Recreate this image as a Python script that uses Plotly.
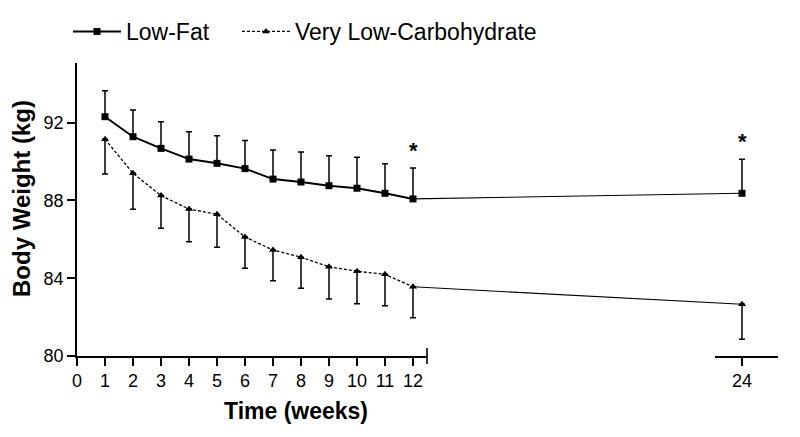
import plotly.graph_objects as go

# ---- data ----
weeks = [1, 2, 3, 4, 5, 6, 7, 8, 9, 10, 11, 12, 24]
low_fat = [92.31, 91.28, 90.68, 90.13, 89.91, 89.64, 89.10, 88.95, 88.76, 88.63, 88.37, 88.08, 88.37]
low_fat_sd = [1.34, 1.37, 1.37, 1.41, 1.42, 1.44, 1.50, 1.54, 1.54, 1.59, 1.52, 1.59, 1.75]
low_carb = [91.15, 89.40, 88.25, 87.56, 87.29, 86.12, 85.45, 85.08, 84.59, 84.36, 84.20, 83.56, 82.66]
low_carb_sd = [1.79, 1.85, 1.68, 1.68, 1.70, 1.61, 1.58, 1.60, 1.66, 1.67, 1.61, 1.59, 1.80]
sig_weeks = [12, 24]
x_ticks_first = [0, 1, 2, 3, 4, 5, 6, 7, 8, 9, 10, 11, 12]
x_ticks_second = [24]
y_ticks = [80, 84, 88, 92]
series_names = ["Low-Fat", "Very Low-Carbohydrate"]

# ---- layout geometry (target page pixels; page has an 8px body offset) ----
W, H = 800, 437
OFF = 8
PAGE_LEFT, PAGE_RIGHT, PAGE_TOP, PAGE_BOTTOM = 77, 778, 63, 356
L = PAGE_LEFT - OFF
T = PAGE_TOP - OFF
R = W - (PAGE_RIGHT - OFF)
B = H - (PAGE_BOTTOM - OFF)
PW = W - L - R
PH = H - T - B
PX_PER_WEEK = 28.0
PX_PER_KG = 19.44
seg1_px = 350.0                       # 0 .. 12.5
seg2_start_px = 715 - PAGE_LEFT
seg2_end_px = PW
week24_px = 742 - PAGE_LEFT


def px_x(page_x):
    return (page_x - PAGE_LEFT) / PW


def px_y(page_y):
    return (PAGE_BOTTOM - page_y) / PH


d1 = [0, seg1_px / PW]
d2 = [seg2_start_px / PW, 1.0]
r1 = [0, seg1_px / PX_PER_WEEK]
r2_0 = 24 - (week24_px - seg2_start_px) / PX_PER_WEEK
r2 = [r2_0, r2_0 + (seg2_end_px - seg2_start_px) / PX_PER_WEEK]
p12 = 12 * PX_PER_WEEK
k3 = (week24_px - p12) / 12.0
r3_0 = 12 - p12 / k3
r3 = [r3_0, r3_0 + PW / k3]

FONT = "Liberation Sans, Arial, sans-serif"
n1 = 12

fig = go.Figure()

fig.add_trace(go.Scatter(
    x=weeks[:n1], y=low_fat[:n1], name=series_names[0], mode="lines+markers",
    line=dict(color="black", width=2), marker=dict(symbol="square", size=7, color="black"),
    error_y=dict(type="data", symmetric=False, array=low_fat_sd[:n1], arrayminus=[0] * n1,
                 color="black", thickness=1.5, width=3),
    xaxis="x", yaxis="y", legend="legend"))
fig.add_trace(go.Scatter(
    x=weeks[:n1], y=low_carb[:n1], name=series_names[1], mode="lines+markers",
    line=dict(color="black", width=1.3, dash="3px,2px"),
    marker=dict(symbol="triangle-up", size=7, color="black"),
    error_y=dict(type="data", symmetric=False, array=[0] * n1, arrayminus=low_carb_sd[:n1],
                 color="black", thickness=1.5, width=3),
    xaxis="x", yaxis="y", legend="legend2"))

for vals in (low_fat, low_carb):
    fig.add_trace(go.Scatter(
        x=weeks[n1 - 1:], y=vals[n1 - 1:], mode="lines", showlegend=False, hoverinfo="skip",
        line=dict(color="black", width=1.1), xaxis="x3", yaxis="y"))

fig.add_trace(go.Scatter(
    x=weeks[n1:], y=low_fat[n1:], mode="markers", showlegend=False,
    marker=dict(symbol="square", size=7, color="black"),
    error_y=dict(type="data", symmetric=False, array=low_fat_sd[n1:], arrayminus=[0],
                 color="black", thickness=1.5, width=3),
    xaxis="x2", yaxis="y"))
fig.add_trace(go.Scatter(
    x=weeks[n1:], y=low_carb[n1:], mode="markers", showlegend=False,
    marker=dict(symbol="triangle-up", size=7, color="black"),
    error_y=dict(type="data", symmetric=False, array=[0], arrayminus=low_carb_sd[n1:],
                 color="black", thickness=1.5, width=3),
    xaxis="x2", yaxis="y"))

annotations = []
for w in sig_weeks:
    i = weeks.index(w)
    annotations.append(dict(
        x=w, y=low_fat[i] + low_fat_sd[i], xref="x" if w <= 12 else "x2", yref="y",
        text="<b>*</b>", showarrow=False, yanchor="bottom", yshift=3,
        font=dict(family=FONT, size=22, color="black")))

annotations.append(dict(
    text="<b>Time (weeks)</b>", xref="paper", yref="paper",
    x=px_x(296), y=px_y(411), showarrow=False,
    xanchor="center", yanchor="middle", font=dict(family=FONT, size=23, color="black")))
annotations.append(dict(
    text="<b>Body Weight (kg)</b>", xref="paper", yref="paper", textangle=-90,
    x=px_x(21), y=px_y(199), showarrow=False,
    xanchor="center", yanchor="middle", font=dict(family=FONT, size=24, color="black")))

axis_common = dict(showline=True, linecolor="black", linewidth=1.6, ticks="outside",
                   ticklen=8, tickwidth=1.6, tickcolor="black", showgrid=False, zeroline=False,
                   tickfont=dict(family=FONT, size=18, color="black"))

legend_common = dict(orientation="h", y=px_y(10), xanchor="left", yanchor="top",
                     font=dict(family=FONT, size=23, color="black"),
                     itemwidth=48, bgcolor="rgba(0,0,0,0)")

fig.update_layout(
    width=W, height=H,
    margin=dict(l=L, r=R, t=T, b=B, pad=0, autoexpand=False),
    paper_bgcolor="white", plot_bgcolor="rgba(0,0,0,0)",
    font=dict(family=FONT, color="black"),
    xaxis=dict(domain=d1, range=r1, tickmode="array", tickvals=x_ticks_first,
               anchor="y", **axis_common),
    xaxis2=dict(domain=d2, range=r2, tickmode="array", tickvals=x_ticks_second,
                anchor="y", **axis_common),
    xaxis3=dict(domain=[0, 1], range=r3, visible=False, anchor="y"),
    yaxis=dict(range=[80, 80 + PH / PX_PER_KG], tickmode="array", tickvals=y_ticks,
               anchor="x", **axis_common),
    legend=dict(x=px_x(68), **legend_common),
    legend2=dict(x=px_x(237), **legend_common),
    annotations=annotations,
    shapes=[dict(type="line", xref="x domain", yref="paper", x0=1, x1=1,
                 y0=-8 / PH, y1=8 / PH, line=dict(color="black", width=1.6))],
    showlegend=True,
)

fig.write_html("out.html")
